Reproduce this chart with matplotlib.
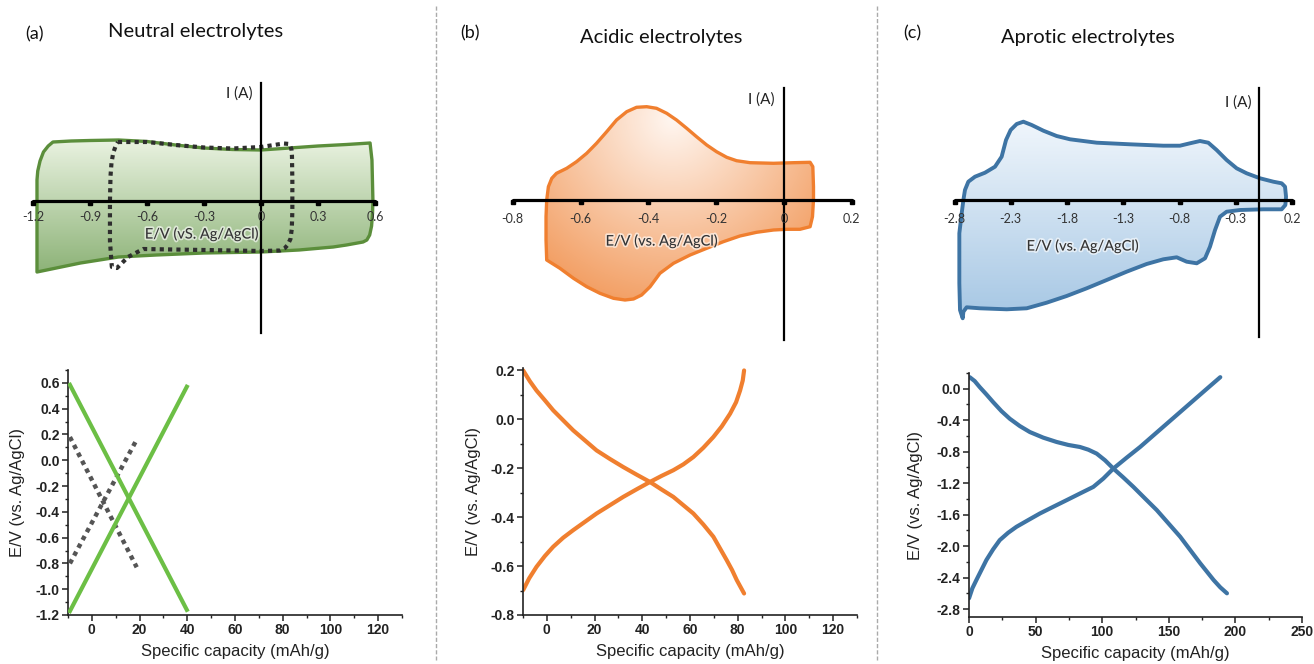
import numpy as np
import matplotlib
matplotlib.use('Agg')
import matplotlib.pyplot as plt
from matplotlib.patches import Polygon
from matplotlib.colors import LinearSegmentedColormap
from matplotlib.ticker import MultipleLocator, FormatStrFormatter
import matplotlib.patheffects as pe

plt.rcParams['axes.unicode_minus'] = False

W, H = 1314, 664

# ---- CV loops (top row), E in V, I in arbitrary units ----
cv_a_E = [-1.095, -1.0, -0.9, -0.75, -0.6, -0.45, -0.3, -0.15, 0.0, 0.15, 0.3, 0.45, 0.574,
          0.584, 0.589, 0.587, 0.582, 0.572, 0.557, 0.537, 0.45, 0.38, 0.2, 0.0, -0.3,
          -0.55, -0.75, -0.95, -1.179, -1.179, -1.179, -1.175, -1.163, -1.145, -1.12, -1.095]
cv_a_I = [59, 60, 60.5, 61, 59.5, 56, 53, 51.5, 51, 53, 55, 56.5, 58,
          41, 1, -12, -25, -34, -39, -41, -44, -46, -49, -51, -52,
          -54, -56, -62, -71, -30, 21, 30, 40, 49, 55, 59]

cv_a2_E = [-0.753, -0.6, -0.45, -0.3, -0.15, 0.0, 0.12, 0.15, 0.16, 0.163, 0.165, 0.165, 0.162,
           0.155, 0.14, 0.126, 0.1, 0.0, -0.3, -0.62, -0.7, -0.758, -0.785, -0.795, -0.795,
           -0.792, -0.787, -0.778, -0.765, -0.753]
cv_a2_I = [59, 59, 56, 53.5, 52.5, 54, 57.5, 57, 52, 45, 20, -10, -28,
           -38, -44, -47, -49.5, -50, -49, -48, -56, -67, -66, -40, 0,
           25, 38, 48, 55, 59]

cv_b_E = [-0.700, -0.695, -0.685, -0.671, -0.641, -0.612, -0.582, -0.553, -0.523, -0.494, -0.464,
          -0.435, -0.405, -0.376, -0.346, -0.317, -0.287, -0.258, -0.228, -0.199, -0.169, -0.140,
          -0.100, -0.031, 0.028, 0.077, 0.085, 0.087, 0.087, 0.084, 0.077, 0.047, 0.008, -0.031,
          -0.081, -0.130, -0.179, -0.228, -0.277, -0.326, -0.366, -0.395, -0.420, -0.444, -0.469,
          -0.503, -0.543, -0.582, -0.621, -0.661, -0.700, -0.702, -0.702, -0.700]
cv_b_I = [0, 13.3, 21.7, 26.7, 31.7, 38.3, 46.7, 56.7, 68.3, 80, 88.3,
          92.7, 93.3, 91.7, 86.7, 80, 71.7, 63.3, 55, 48.3, 42.7, 39.3,
          37.3, 36.7, 37.3, 37.7, 33.3, 13.3, 0, -16.7, -26.7, -29.3, -29.3, -30,
          -32.3, -36, -41.7, -48.3, -55, -63.3, -73.3, -86.7, -95, -99, -100,
          -98.3, -93.3, -86.7, -78.3, -68.3, -60, -40, -16.7, 0]

cv_c_E = [-2.721, -2.707, -2.677, -2.618, -2.529, -2.440, -2.381, -2.342, -2.301, -2.247, -2.188,
          -2.114, -2.010, -1.892, -1.773, -1.536, -1.240, -0.944, -0.796, -0.707, -0.618, -0.544,
          -0.470, -0.381, -0.292, -0.203, -0.084, 0.034, 0.108, 0.138, 0.147, 0.141, 0.108,
          -0.055, -0.262, -0.381, -0.440, -0.484, -0.529, -0.573, -0.647, -0.736, -0.825,
          -0.944, -1.092, -1.270, -1.447, -1.625, -1.803, -1.981, -2.158, -2.336, -2.573,
          -2.692, -2.721, -2.727, -2.751, -2.757, -2.757, -2.736, -2.721]
cv_c_I = [0, 10, 18.3, 23.3, 27.3, 33.3, 43.3, 60, 70, 76, 78.3,
          75, 69.3, 64, 60.7, 57.3, 55.7, 54.3, 54.3, 56.7, 59, 57.3,
          50, 40, 31.7, 26.7, 21.7, 18.3, 16.7, 13.3, 3.3, -5, -9.3,
          -9.3, -10, -11.7, -16.7, -30, -46.7, -58.3, -63.3, -61.7, -57.3,
          -59.3, -64, -71.7, -80, -88.3, -96, -102.7, -108.3, -109.3, -108.3,
          -107.3, -111.7, -118.3, -110, -83.3, -33.3, -13.3, 0]

cv_a_ticks = [-1.2, -0.9, -0.6, -0.3, 0, 0.3, 0.6]
cv_a_labels = ['-1.2', '-0.9', '-0.6', '-0.3', '0', '0.3', '0.6']
cv_b_ticks = [-0.8, -0.6, -0.4, -0.2, 0, 0.2]
cv_b_labels = ['-0.8', '-0.6', '-0.4', '-0.2', '0', '0.2']
cv_c_ticks = [-2.8, -2.3, -1.8, -1.3, -0.8, -0.3, 0.2]
cv_c_labels = ['-2.8', '-2.3', '-1.8', '-1.3', '-0.8', '-0.3', '0.2']

# ---- galvanostatic curves (bottom row) ----
gc_a_q1 = [-9.2, 39.8]
gc_a_e1 = [0.585, -1.16]
gc_a_q2 = [-9.2, 39.8]
gc_a_e2 = [-1.17, 0.57]
gc_a_dq1 = [-9.2, 18.8]
gc_a_de1 = [0.18, -0.83]
gc_a_dq2 = [-9.2, 18.8]
gc_a_de2 = [-0.80, 0.16]

gc_b_q1 = [-9.93, -7.13, -4.34, -0.84, 2.66, 6.85, 11.05, 15.95, 20.84, 26.44, 32.03, 37.63, 43.22,
           48.12, 53.01, 57.21, 61.41, 65.60, 69.80, 72.60, 75.40, 77.63, 79.59, 81.27, 82.67]
gc_b_e1 = [0.2, 0.156, 0.118, 0.078, 0.037, -0.004, -0.045, -0.086, -0.127, -0.162, -0.195, -0.226,
           -0.256, -0.287, -0.317, -0.351, -0.385, -0.430, -0.480, -0.528, -0.576, -0.616, -0.657,
           -0.687, -0.712]
gc_b_q2 = [-9.93, -7.41, -4.34, -0.84, 2.66, 6.85, 11.05, 15.95, 20.84, 26.44, 32.03, 37.63, 43.22,
           48.12, 53.01, 57.21, 61.41, 65.60, 69.80, 73.30, 76.79, 79.31, 80.99, 82.11, 82.67]
gc_b_e2 = [-0.698, -0.650, -0.603, -0.559, -0.521, -0.484, -0.453, -0.419, -0.385, -0.351, -0.317,
           -0.286, -0.256, -0.231, -0.208, -0.184, -0.154, -0.116, -0.072, -0.029, 0.023, 0.070,
           0.118, 0.159, 0.2]

gc_c_q1 = [0.53, 4.29, 8.05, 13.07, 18.08, 24.35, 30.62, 38.15, 45.67, 55.70, 65.74, 74.52, 83.30,
           89.57, 95.84, 102.11, 108.38, 115.90, 123.42, 132.20, 140.98, 149.76, 158.54, 166.06,
           173.59, 178.61, 183.62, 188.64, 193.66]
gc_c_e1 = [0.147, 0.097, 0.021, -0.072, -0.169, -0.284, -0.381, -0.474, -0.550, -0.621, -0.676,
           -0.714, -0.740, -0.774, -0.824, -0.909, -1.014, -1.128, -1.247, -1.395, -1.542, -1.711,
           -1.880, -2.049, -2.218, -2.324, -2.430, -2.523, -2.599]
gc_c_q2 = [0.02, 2.53, 5.54, 9.31, 13.07, 18.08, 23.10, 29.37, 35.64, 44.42, 53.20, 63.23, 73.26,
           83.30, 93.33, 100.85, 108.38, 118.41, 128.44, 138.47, 148.51, 158.54, 168.57, 178.61,
           188.64]
gc_c_e2 = [-2.662, -2.535, -2.430, -2.303, -2.176, -2.041, -1.923, -1.830, -1.754, -1.669, -1.585,
           -1.500, -1.416, -1.331, -1.247, -1.141, -1.014, -0.875, -0.740, -0.592, -0.444, -0.296,
           -0.148, 0.0, 0.147]

fig = plt.figure(figsize=(W / 100, H / 100), dpi=100)


def px_axes(l, t, r, b):
    return fig.add_axes([l / W, 1 - b / H, (r - l) / W, (b - t) / H])


def ftext(x, y, s, **kw):
    fig.text(x / W, 1 - y / H, s, **kw)


def cv_axes(l, t, r, b, x0, k, y0):
    ax = px_axes(l, t, r, b)
    ax.set_xlim((l - x0) / k, (r - x0) / k)
    ax.set_ylim(y0 - b, y0 - t)
    ax.axis('off')
    return ax


def grad_fill(ax, xs, ys, c1, c2, edge, lw, center=None, kx=1.0):
    xs, ys = np.asarray(xs), np.asarray(ys)
    poly = Polygon(np.column_stack([xs, ys]), closed=True, fc='none', ec=edge,
                   lw=lw, joinstyle='round', zorder=3)
    ax.add_patch(poly)
    x0, x1, y0, y1 = xs.min(), xs.max(), ys.min(), ys.max()
    gx, gy = np.meshgrid(np.linspace(x0, x1, 300), np.linspace(y0, y1, 300))
    if center is None:
        z = (y1 - gy) / (y1 - y0)
    else:
        z = np.hypot((gx - center[0]) * kx, gy - center[1])
        z = z / z.max()
    cmap = LinearSegmentedColormap.from_list('g', [c1, c2])
    im = ax.imshow(z, extent=(x0, x1, y0, y1), origin='lower', cmap=cmap,
                   aspect='auto', zorder=2, interpolation='bilinear')
    im.set_clip_path(poly)


def cv_frame(ax, ticks, labels, vline_x, vtop, vbot, lab_off):
    xl, yl = ax.get_xlim(), ax.get_ylim()
    ax.plot([ticks[0], ticks[-1]], [0, 0], color='black', lw=2.3, zorder=5, solid_capstyle='round')
    ax.plot(ticks, [-1.5] * len(ticks), 's', color='black', ms=2.6, zorder=5)
    ax.plot([vline_x, vline_x], [vbot, vtop], color='black', lw=1.6, zorder=5)
    for v, s in zip(ticks, labels):
        ax.text(v, lab_off, s, ha='center', va='center', fontsize=9, color='#333333',
                family='Lato', zorder=6)
    ax.set_xlim(xl)
    ax.set_ylim(yl)


glow = [pe.withStroke(linewidth=2.5, foreground=(1, 1, 1, 0.6))]

# (a) top
ax = cv_axes(15, 70, 420, 345, 261, 190, 201)
grad_fill(ax, cv_a_E, cv_a_I, '#e9f2e0', '#8db378', '#5b8e3b', 2.4)
ax.plot(cv_a2_E, cv_a2_I, color='#2e2e2e', lw=3.0, ls=(0, (1, 1)), zorder=4)
cv_frame(ax, cv_a_ticks, cv_a_labels, 0.0, 118, -132, -16)

# (b) top
ax = cv_axes(445, 70, 870, 345, 784, 339, 200)
grad_fill(ax, cv_b_E, cv_b_I, '#fff6f0', '#f08d47', '#f07f2f', 2.4, center=(-0.33, 80), kx=339)
cv_frame(ax, cv_b_ticks, cv_b_labels, 0.0, 112, -140, -19)

# (c) top
ax = cv_axes(885, 70, 1310, 345, 1269.5, 112.5, 200)
grad_fill(ax, cv_c_E, cv_c_I, '#f0f6fc', '#a6c7e4', '#3e74a4', 2.8)
cv_frame(ax, cv_c_ticks, cv_c_labels, -0.09, 112, -137, -19)

# texts for top row
for x, y, s in [(34, 34, '(a)'), (470, 33, '(b)'), (912, 33, '(c)')]:
    ftext(x, y, s, ha='center', va='center', fontsize=13, family='Lato', color='#111111')
for x, y, s in [(196, 31, 'Neutral electrolytes'), (661, 37, 'Acidic electrolytes'),
                (1088, 37, 'Aprotic electrolytes')]:
    ftext(x, y, s, ha='center', va='center', fontsize=14.5, family='Lato', color='#111111')
for x, y in [(239, 94), (761, 100), (1238, 103)]:
    ftext(x, y, 'I (A)', ha='center', va='center', fontsize=11, family='Lato', color='#222222')
for x, y, s in [(202, 234, 'E/V (vS. Ag/AgCl)'), (662, 241, 'E/V (vs. Ag/AgCl)'),
                (1083, 246, 'E/V (vs. Ag/AgCl)')]:
    fig.text(x / W, 1 - y / H, s, ha='center', va='center', fontsize=10.5, family='Lato',
             color='#333333', path_effects=glow, zorder=10)

# separators
for x in [436, 877]:
    fig.add_artist(plt.Line2D([x / W, x / W], [1 - 6 / H, 1 - 660 / H], color='#aaaaaa',
                              lw=1.0, ls=(0, (3, 1.5))))


def gc_axes(l, t, r, b, xlim, ylim, xmaj, xmin, ymaj, ymin, ylab_dx, xlab_dy):
    ax = px_axes(l, t, r, b)
    ax.set_xlim(xlim)
    ax.set_ylim(ylim)
    for s in ['top', 'right']:
        ax.spines[s].set_visible(False)
    for s in ['left', 'bottom']:
        ax.spines[s].set_linewidth(1.2)
        ax.spines[s].set_color('#222222')
    ax.xaxis.set_major_locator(MultipleLocator(xmaj))
    ax.xaxis.set_minor_locator(MultipleLocator(xmin))
    ax.yaxis.set_major_locator(MultipleLocator(ymaj))
    ax.yaxis.set_minor_locator(MultipleLocator(ymin))
    ax.yaxis.set_major_formatter(FormatStrFormatter('%.1f'))
    ax.tick_params(which='major', direction='out', length=4, width=1.1, color='#222222',
                   labelsize=10, labelcolor='#222222', pad=2)
    ax.tick_params(which='minor', direction='out', length=2.5, width=1.0, color='#222222')
    for lab in ax.get_xticklabels() + ax.get_yticklabels():
        lab.set_fontfamily('Liberation Sans')
        lab.set_fontweight('bold')
    ax.set_xlabel('Specific capacity (mAh/g)', fontsize=12, family='Liberation Sans', color='#222222')
    ax.set_ylabel('E/V (vs. Ag/AgCl)', fontsize=12, family='Liberation Sans', color='#222222')
    ax.xaxis.set_label_coords(0.5, -xlab_dy / (b - t))
    ax.yaxis.set_label_coords(-ylab_dx / (r - l), 0.5)
    ax.set_facecolor('none')
    return ax


kw = dict(solid_joinstyle='round', solid_capstyle='round')

# (a) bottom
ax = gc_axes(68, 370, 402, 615, (-10, 130), (-1.2, 0.7), 20, 10, 0.2, 0.1, 43, 29)
ax.plot(gc_a_dq1, gc_a_de1, color='#555555', lw=3.2, ls=(0, (1, 1)), zorder=3)
ax.plot(gc_a_dq2, gc_a_de2, color='#555555', lw=3.2, ls=(0, (1, 1)), zorder=3)
ax.plot(gc_a_q1, gc_a_e1, color='#6cbf45', lw=3.0, zorder=4)
ax.plot(gc_a_q2, gc_a_e2, color='#6cbf45', lw=3.0, zorder=4)

# (b) bottom
ax = gc_axes(523, 368, 857, 615, (-10, 130), (-0.8, 0.21), 20, 10, 0.2, 0.1, 42, 29)
ax.plot(gc_b_q1, gc_b_e1, color='#f07f2f', lw=3.0, **kw)
ax.plot(gc_b_q2, gc_b_e2, color='#f07f2f', lw=3.0, **kw)

# (c) bottom
ax = gc_axes(969, 373, 1302, 617, (0, 250), (-2.9, 0.2), 50, 25, 0.4, 0.2, 46, 29)
ax.plot(gc_c_q1, gc_c_e1, color='#3e74a4', lw=3.0, **kw)
ax.plot(gc_c_q2, gc_c_e2, color='#3e74a4', lw=3.0, **kw)

fig.savefig('out.png', dpi=100)
